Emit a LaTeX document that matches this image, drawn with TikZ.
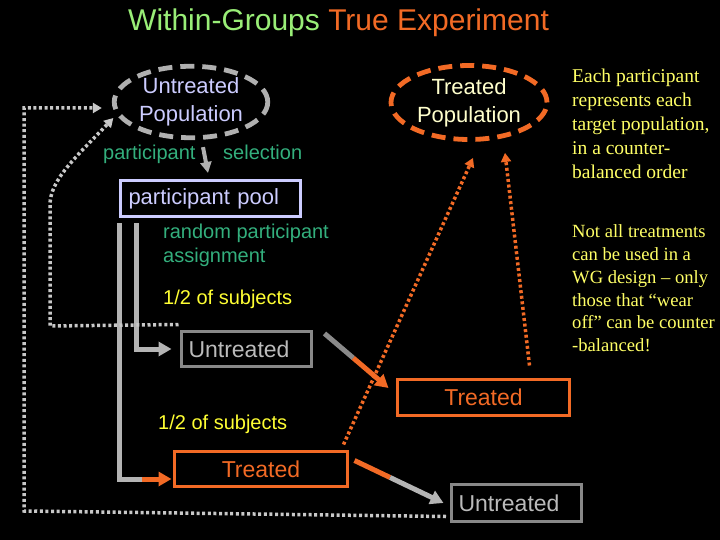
\documentclass[tikz,border=0pt]{standalone}
\usepackage{fontspec}
\setmainfont{Liberation Sans}
\newfontfamily\tnr{Liberation Serif}
\usetikzlibrary{arrows.meta,calc,shapes.geometric}
\definecolor{titlegreen}{HTML}{99EE77}
\definecolor{orng}{HTML}{F26A25}
\definecolor{lav}{HTML}{CCCCFF}
\definecolor{dashgray}{HTML}{B0B0B0}
\definecolor{lblgreen}{HTML}{33AF7D}
\definecolor{ylw}{HTML}{FFFF33}
\definecolor{noteyellow}{HTML}{FFFF66}
\definecolor{paleyellow}{HTML}{FFFFCC}
\definecolor{boxgray}{HTML}{888888}
\definecolor{txtgray}{HTML}{BBBBBB}
\definecolor{dotgray}{HTML}{C8C8C8}
\definecolor{linegray}{HTML}{B4B4B4}
\definecolor{midgray}{HTML}{8A8A8A}
\begin{document}
\begin{tikzpicture}[x=1pt,y=-1pt,
  popell/.style={ellipse, draw, line width=4.8pt, dash pattern=on 14pt off 8pt, inner sep=0pt, align=center, font=\fontsize{22}{28}\selectfont},
  boxnode/.style={rectangle, draw, line width=3pt, inner sep=0pt},
  boxfont/.style={font=\fontsize{23}{27}\selectfont},
  lbl/.style={anchor=base west, inner sep=0pt, font=\fontsize{20}{24}\selectfont},
  notetext/.style={anchor=base west, inner sep=0pt, font=\tnr\fontsize{19.5}{24}\selectfont, text=noteyellow},
  notetextb/.style={notetext, font=\tnr\fontsize{18.6}{23}\selectfont},
  fatline/.style={line width=5pt},
  dotline/.style={line width=3.5pt, dash pattern=on 3pt off 2.6pt},
  bigtip/.style={-{Triangle[length=13pt,width=14pt]}},
  smalltip/.style={-{Triangle[length=9pt,width=10pt]}},
]
\fill[black] (0,0) rectangle (720,540);
\useasboundingbox (0,0) rectangle (720,540);

% title
\node[anchor=base west, inner sep=0pt, font=\fontsize{30}{35}\selectfont] (title) at (128,31)
  {\textcolor{titlegreen}{Within-Groups} \textcolor{orng}{True Experiment}};

% populations
\node[popell, draw=dashgray, text=lav, minimum width=153.5pt, minimum height=71.5pt] (upop) at (191,102) {Untreated\\Population};
\node[popell, draw=orng, text=paleyellow, minimum width=156pt, minimum height=74pt] (tpop) at (469,102.5) {Treated\\Population};

% pool and boxes
\node[boxnode, draw=lav, text=lav, minimum width=180pt, minimum height=36pt, text width=164pt, align=left, font=\fontsize{22}{26}\selectfont] (pool) at (210.5,198.5) {participant pool};
\node[boxnode, boxfont, draw=boxgray, text=txtgray, minimum width=130pt, minimum height=35pt, text width=116pt, align=left] (untr1) at (246.5,349) {Untreated};
\node[boxnode, boxfont, draw=orng, text=orng, minimum width=172pt, minimum height=36pt] (tr1) at (483.5,397.5) {Treated};
\node[boxnode, boxfont, draw=orng, text=orng, minimum width=173pt, minimum height=35pt] (tr2) at (261,469) {Treated};
\node[boxnode, boxfont, draw=boxgray, text=txtgray, minimum width=130pt, minimum height=37pt, text width=116pt, align=left] (untr2) at (516.5,503) {Untreated};

% labels
\node[lbl, text=lblgreen] (ps1) at (103,160) {participant};
\node[lbl, text=lblgreen] (ps2) at (223,160) {selection};
\node[lbl, text=lblgreen] (rpa1) at (163,238) {random participant};
\node[lbl, text=lblgreen] (rpa2) at (163,262) {assignment};
\node[lbl, text=ylw] (half1) at (163,304) {1/2 of subjects};
\node[lbl, text=ylw] (half2) at (158,429) {1/2 of subjects};

% notes
\node[notetext] (na1) at (572,83) {Each participant};
\node[notetext] (na2) at (572,107) {represents each};
\node[notetext] (na3) at (572,131) {target population,};
\node[notetext] (na4) at (572,155) {in a counter-};
\node[notetext] (na5) at (572,179) {balanced order};
\node[notetextb] (nb1) at (572,237) {Not all treatments};
\node[notetextb] (nb2) at (572,260) {can be used in a};
\node[notetextb] (nb3) at (572,283) {WG design – only};
\node[notetextb] (nb4) at (572,306) {those that “wear};
\node[notetextb] (nb5) at (572,328.5) {off” can be counter};
\node[notetextb] (nb6) at (572,351) {-balanced!};

% selection arrow
\draw[line width=4pt, color=dashgray, -{Triangle[length=11pt,width=11pt]}] ($(upop.south)+(12,7)$) -- ($(pool.north)+(-2.5,-6)$);

% assignment lines
\coordinate (aA) at ($(pool.south west)+(0,5.5)$);
\coordinate (aB) at ($(pool.south west)+(17,5.5)$);
\draw[fatline, color=linegray, bigtip, shorten >=8.5pt] (aB) |- (untr1.west);
\coordinate (aAm) at ($(aA |- tr2.west)+(23,10)$);
\draw[fatline, color=linegray] (aA) |- (aAm);
\draw[fatline, color=orng, bigtip] (aAm) -- ($(tr2.west)+(-1.5,10)$);

% crossover arrows
\coordinate (d1s) at ($(untr1.north east)+(11.5,3.5)$);
\coordinate (d1e) at ($(tr1.west)+(-7.5,-9.5)$);
\draw[fatline, color=midgray] (d1s) -- ($(d1s)!0.45!(d1e)$);
\draw[fatline, color=orng, bigtip] ($(d1s)!0.45!(d1e)$) -- (d1e);
\coordinate (d2s) at ($(tr2.north east)+(5.5,10.5)$);
\coordinate (d2e) at ($(untr2.west)+(-6.5,0)$);
\draw[fatline, color=orng] (d2s) -- ($(d2s)!0.4!(d2e)$);
\draw[fatline, color=linegray, bigtip] ($(d2s)!0.4!(d2e)$) -- (d2e);

% dotted gray returns
\draw[dotline, color=dotgray, smalltip] ($(untr1.north west)+(-1.5,-5.5)$) -- (50,326) -- (50,205)
  .. controls (50,180) and (75,158) .. ($(upop.west)+(1.5,16)$);
\draw[dotline, color=dotgray, smalltip] ($(untr2.south west)+(-4,-6.5)$) -- (24,511) -- (24,108) -- ($(upop.west)+(-10,6)$);

% dotted orange returns
\draw[dotline, color=orng, smalltip] ($(tr2.north east)+(-5.5,-5.5)$) -- ($(tpop.south)+(4,16)$);
\draw[dotline, color=orng, smalltip] ($(tr1.north east)+(-41.5,-12.5)$) -- ($(tpop.south)+(36,11)$);
\end{tikzpicture}
\end{document}
